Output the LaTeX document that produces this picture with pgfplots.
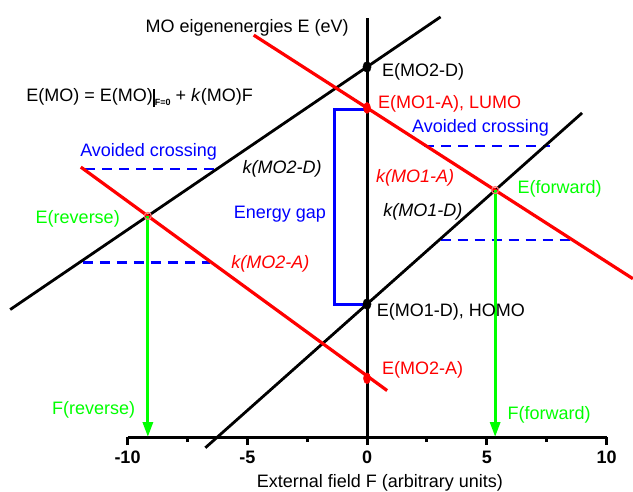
\documentclass[border=0pt]{standalone}
\usepackage{pgfplots}
\pgfplotsset{compat=1.18}
\usepackage{fontspec}
\setmainfont{Liberation Sans}
\usetikzlibrary{arrows.meta}
\definecolor{grn}{RGB}{0,255,0}
\definecolor{rd}{RGB}{255,0,0}
\definecolor{bl}{RGB}{0,0,255}
\tikzset{lab/.style={anchor=base west, inner sep=0pt, font=\fontsize{18}{20}\selectfont}}
\begin{document}
\begin{tikzpicture}
\begin{axis}[
  x=23.95pt, y=23.95pt,
  xmin=-10, xmax=10, ymin=0, ymax=17.5,
  enlargelimits=false,
  clip=false,
  axis x line*=bottom, axis y line=none,
  x axis line style={line width=3pt, -},
  xtick={-10,-5,0,5,10},
  xticklabels={{-10},{-5},{0},{5},{10}},
  minor xtick={-7.5,-2.5,2.5,7.5},
  tick align=outside,
  major tick length=8pt, minor tick length=5pt,
  every tick/.style={line width=3pt, black},
  xticklabel style={font=\fontsize{18}{18}\selectfont\bfseries, inner sep=0pt, anchor=north, yshift=-6pt},
]
% dashed avoided crossing lines
\addplot[bl, line width=2.2pt, dash pattern=on 10pt off 7pt] coordinates {(-11.77,11.18) (-6.39,11.18)};
\addplot[bl, line width=2.2pt, dash pattern=on 10pt off 7pt] coordinates {(-11.86,7.29) (-6.55,7.29)};
\addplot[bl, line width=2.2pt, dash pattern=on 10pt off 7pt] coordinates {(2.40,12.16) (7.63,12.16)};
\addplot[bl, line width=2.2pt, dash pattern=on 10pt off 7pt] coordinates {(3.07,8.23) (8.48,8.23)};
% energy gap bracket
\addplot[bl, line width=3pt] coordinates {(0,13.66) (-1.35,13.66) (-1.35,5.53) (0,5.53)};
% MO lines
\addplot[black, line width=2.8pt] coordinates {(-14.9,5.32) (3.07,17.54)};
\addplot[black, line width=2.8pt] coordinates {(-6.75,-0.45) (8.98,13.53)};
\addplot[rd, line width=3.2pt] coordinates {(-4.73,16.78) (11.1,6.61)};
\addplot[rd, line width=3.2pt] coordinates {(-11.95,11.27) (0.84,1.94)};
% red markers
\addplot[only marks, mark=*, rd, mark size=5.5pt, mark options={xscale=0.65}] coordinates {(0,13.74) (0,2.45)};
% vertical axis
\addplot[black, line width=3pt] coordinates {(0,0) (0,17.5)};
% black markers
\addplot[only marks, mark=*, black, mark size=5.5pt, mark options={xscale=0.75}] coordinates {(0,15.45) (0,5.55)};
% intersection circles
\addplot[only marks, mark=o, mark size=3.5pt, draw=rd!55, line width=1.2pt] coordinates {(-9.15,9.23) (5.35,10.31)};
% green arrows
\addplot[grn, line width=3pt, -{Triangle[length=15pt,width=10pt]}] coordinates {(-9.15,9.23) (-9.15,0)};
\addplot[grn, line width=3pt, -{Triangle[length=15pt,width=10pt]}] coordinates {(5.35,10.31) (5.35,0)};
% labels
\node[lab] at (axis cs:-9.25,16.88) {MO eigenenergies E (eV)};
\node[lab] at (axis cs:0.626,15.07) {E(MO2-D)};
\node[lab] at (axis cs:-14.23,14.0) {E(MO) = E(MO)\raisebox{-5pt}{\rule{2pt}{18pt}}\raisebox{-4pt}{\fontsize{9}{9}\selectfont\bfseries F=0} + \textit{k}(MO)F};
\node[lab, text=rd] at (axis cs:0.46,13.72) {E(MO1-A), LUMO};
\node[lab, text=bl] at (axis cs:1.88,12.72) {Avoided crossing};
\node[lab, text=bl] at (axis cs:-11.98,11.73) {Avoided crossing};
\node[lab] at (axis cs:-5.2,11.01) {\itshape k(MO2-D)};
\node[lab, text=rd] at (axis cs:0.375,10.63) {\itshape k(MO1-A)};
\node[lab, text=grn] at (axis cs:6.28,10.18) {E(forward)};
\node[lab, text=grn] at (axis cs:-13.84,8.92) {E(reverse)};
\node[lab, text=bl] at (axis cs:-5.57,9.13) {Energy gap};
\node[lab] at (axis cs:0.676,9.2) {\itshape k(MO1-D)};
\node[lab, text=rd] at (axis cs:-5.67,7.04) {\itshape k(MO2-A)};
\node[lab] at (axis cs:0.405,5.05) {E(MO1-D), HOMO};
\node[lab, text=rd] at (axis cs:0.626,2.59) {E(MO2-A)};
\node[lab, text=grn] at (axis cs:-13.16,0.92) {F(reverse)};
\node[lab, text=grn] at (axis cs:5.86,0.71) {F(forward)};
\node[lab, anchor=base] at (axis cs:0.54,-2.09) {External field F (arbitrary units)};
\coordinate (BL) at (axis cs:-15.324,-2.255);
\coordinate (TR) at (axis cs:11.106,18.246);
\end{axis}
\pgfresetboundingbox
\path[use as bounding box] (BL) rectangle (TR);
\end{tikzpicture}
\end{document}
